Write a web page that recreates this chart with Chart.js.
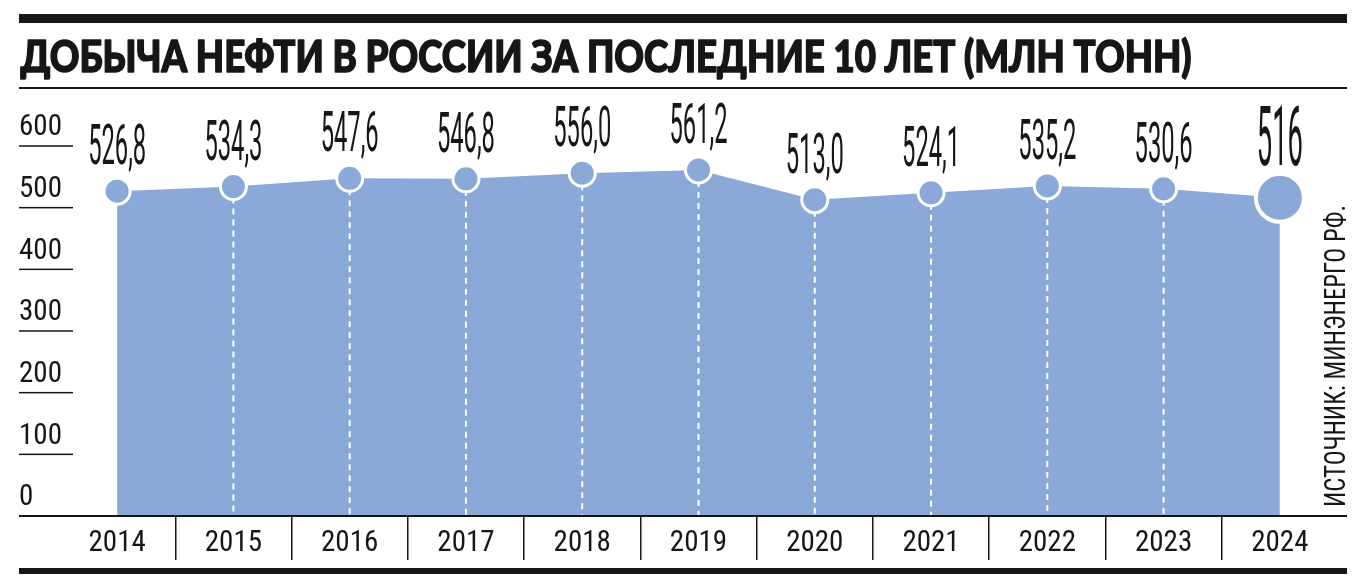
<!DOCTYPE html>
<html lang="ru">
<head>
<meta charset="utf-8">
<title>Добыча нефти в России</title>
<script src="https://cdn.jsdelivr.net/npm/chart.js@4.4.1/dist/chart.umd.min.js"></script>
<style>
    html, body { margin: 0; padding: 0; background: #ffffff; }
    #wrap { width: 1366px; height: 581px; }
</style>
</head>
<body>
<div id="wrap"><canvas id="oilChart" width="1366" height="581"></canvas></div>
<script>
/* ============================
   Data
============================ */
const years = ['2014', '2015', '2016', '2017', '2018', '2019', '2020', '2021', '2022', '2023', '2024'];
const production = [526.8, 534.3, 547.6, 546.8, 556.0, 561.2, 513.0, 524.1, 535.2, 530.6, 516];
const yTicks = [0, 100, 200, 300, 400, 500, 600];

const chartTitle = 'ДОБЫЧА НЕФТИ В РОССИИ ЗА ПОСЛЕДНИЕ 10 ЛЕТ (МЛН ТОНН)';
const sourceText = 'ИСТОЧНИК: МИНЭНЕРГО РФ.';

/* ============================
   Styles
============================ */
const areaColor = '#8aa9d8';
const inkColor = '#161616';
const narrowFont = '"Liberation Sans Narrow", "Roboto Condensed", "Noto Sans Condensed", "DejaVu Sans Condensed", Roboto, sans-serif';
const titleFont = 'Lato, Roboto, "Open Sans", sans-serif';
const valueFont = 'Roboto, "Noto Sans", sans-serif';

const lastIndex = production.length - 1;

function formatValue(v, i) {
    return i === lastIndex ? String(v) : v.toFixed(1).replace('.', ',');
}

// pick a tick font size so that a year label is about as wide as in print
const probe = document.createElement('canvas').getContext('2d');
probe.font = '29px ' + narrowFont;
const tickSize = Math.min(29, Math.round(29 * 57 / probe.measureText('2014').width));

/* ============================
   Frame, title, source, labels
============================ */
const framePlugin = {
    id: 'frame',
    beforeDraw(chart) {
        const ctx = chart.ctx;
        ctx.save();
        ctx.fillStyle = inkColor;
        ctx.strokeStyle = inkColor;
        ctx.fillRect(19, 14, 1328, 9);
        ctx.fillRect(19, 87, 1328, 2);
        ctx.fillRect(19, 568, 1328, 6);

        // title, fitted to its printed width, a touch heavier
        ctx.font = '900 44px ' + titleFont;
        ctx.textBaseline = 'alphabetic';
        ctx.textAlign = 'left';
        ctx.lineJoin = 'round';
        ctx.lineWidth = 1.6;
        const w = ctx.measureText(chartTitle).width;
        ctx.translate(20.5, 72);
        ctx.scale(1171 / w, 1);
        ctx.fillText(chartTitle, 0, 0);
        ctx.strokeText(chartTitle, 0, 0);
        ctx.restore();

        // vertical source line
        ctx.save();
        ctx.fillStyle = inkColor;
        ctx.font = '30px ' + narrowFont;
        const sw = ctx.measureText(sourceText).width;
        ctx.translate(1345, 507);
        ctx.rotate(-Math.PI / 2);
        ctx.scale(302 / sw, 1);
        ctx.fillText(sourceText, 0, 0);
        ctx.restore();
    },
    afterDatasetDraw(chart, args) {
        // white dashed drops from each inner point down to the baseline
        if (args.index !== 0) return;
        const ctx = chart.ctx;
        const bottom = chart.chartArea.bottom;
        ctx.save();
        ctx.strokeStyle = '#ffffff';
        ctx.lineWidth = 2;
        ctx.setLineDash([6, 5]);
        args.meta.data.forEach((pt, i) => {
            if (i === 0 || i === lastIndex) return;
            ctx.beginPath();
            ctx.moveTo(pt.x, pt.y);
            ctx.lineTo(pt.x, bottom);
            ctx.stroke();
        });
        ctx.restore();
    },
    afterDatasetsDraw(chart) {
        const ctx = chart.ctx;
        const yScale = chart.scales.y;
        ctx.save();
        ctx.fillStyle = inkColor;
        // baseline across the whole width
        ctx.fillRect(19, yScale.getPixelForValue(0) - 1, 1328, 2);
        // short underlines under the y labels
        yScale.ticks.forEach(t => {
            if (t.value === 0) return;
            const y = yScale.getPixelForValue(t.value);
            ctx.fillRect(19, y - 0.75, 54, 1.5);
        });

        // value labels above points, tall and narrow like the print
        const meta = chart.getDatasetMeta(1);
        ctx.textAlign = 'center';
        ctx.textBaseline = 'alphabetic';
        ctx.font = '56px ' + valueFont;
        const sx = 58 / ctx.measureText('526,8').width;
        ctx.font = '84px ' + valueFont;
        const sxBig = 46 / ctx.measureText('516').width;
        meta.data.forEach((pt, i) => {
            const big = i === lastIndex;
            ctx.save();
            ctx.font = (big ? 84 : 56) + 'px ' + valueFont;
            ctx.translate(pt.x, pt.y - (big ? 33 : 27));
            ctx.scale(big ? sxBig : sx, 1);
            ctx.fillText(formatValue(production[i], i), 0, 0);
            ctx.restore();
        });
        ctx.restore();
    }
};

/* ============================
   Chart
============================ */
const ctx = document.getElementById('oilChart').getContext('2d');

new Chart(ctx, {
    type: 'line',
    data: {
        labels: years,
        datasets: [
            {
                data: production,
                fill: 'origin',
                backgroundColor: areaColor,
                borderWidth: 0,
                pointRadius: 0,
                tension: 0,
                order: 2
            },
            {
                data: production,
                showLine: false,
                pointRadius: production.map((v, i) => i === lastIndex ? 24 : 13),
                pointBackgroundColor: areaColor,
                pointBorderColor: '#ffffff',
                pointBorderWidth: production.map((v, i) => i === lastIndex ? 4 : 3),
                clip: false,
                order: 1
            }
        ]
    },
    options: {
        responsive: false,
        animation: false,
        events: [],
        layout: {
            padding: { top: 146, left: 19, right: 25, bottom: 0 }
        },
        plugins: {
            legend: { display: false },
            tooltip: { enabled: false }
        },
        scales: {
            x: {
                type: 'category',
                offset: true,
                grid: {
                    offset: true,
                    drawOnChartArea: false,
                    drawTicks: true,
                    tickLength: 44,
                    lineWidth: 1.5,
                    // only the separators between years, not the outer edges
                    color: c => (c.type === 'tick' && c.index > 0 && c.index < years.length) ? inkColor : 'rgba(0,0,0,0)'
                },
                border: { display: false },
                ticks: {
                    color: inkColor,
                    font: { family: narrowFont, size: tickSize },
                    padding: -34,
                    maxRotation: 0,
                    autoSkip: false
                },
                afterFit: scale => { scale.height = 65; }
            },
            y: {
                min: 0,
                max: 600,
                afterBuildTicks: scale => {
                    scale.ticks = yTicks.map(v => ({ value: v }));
                },
                grid: { drawOnChartArea: false, drawTicks: false },
                border: { display: false },
                ticks: {
                    color: inkColor,
                    font: { family: narrowFont, size: tickSize },
                    mirror: true,
                    padding: -40,
                    labelOffset: -18
                },
                afterFit: scale => { scale.width = 40; }
            }
        }
    },
    plugins: [framePlugin]
});
</script>
</body>
</html>
